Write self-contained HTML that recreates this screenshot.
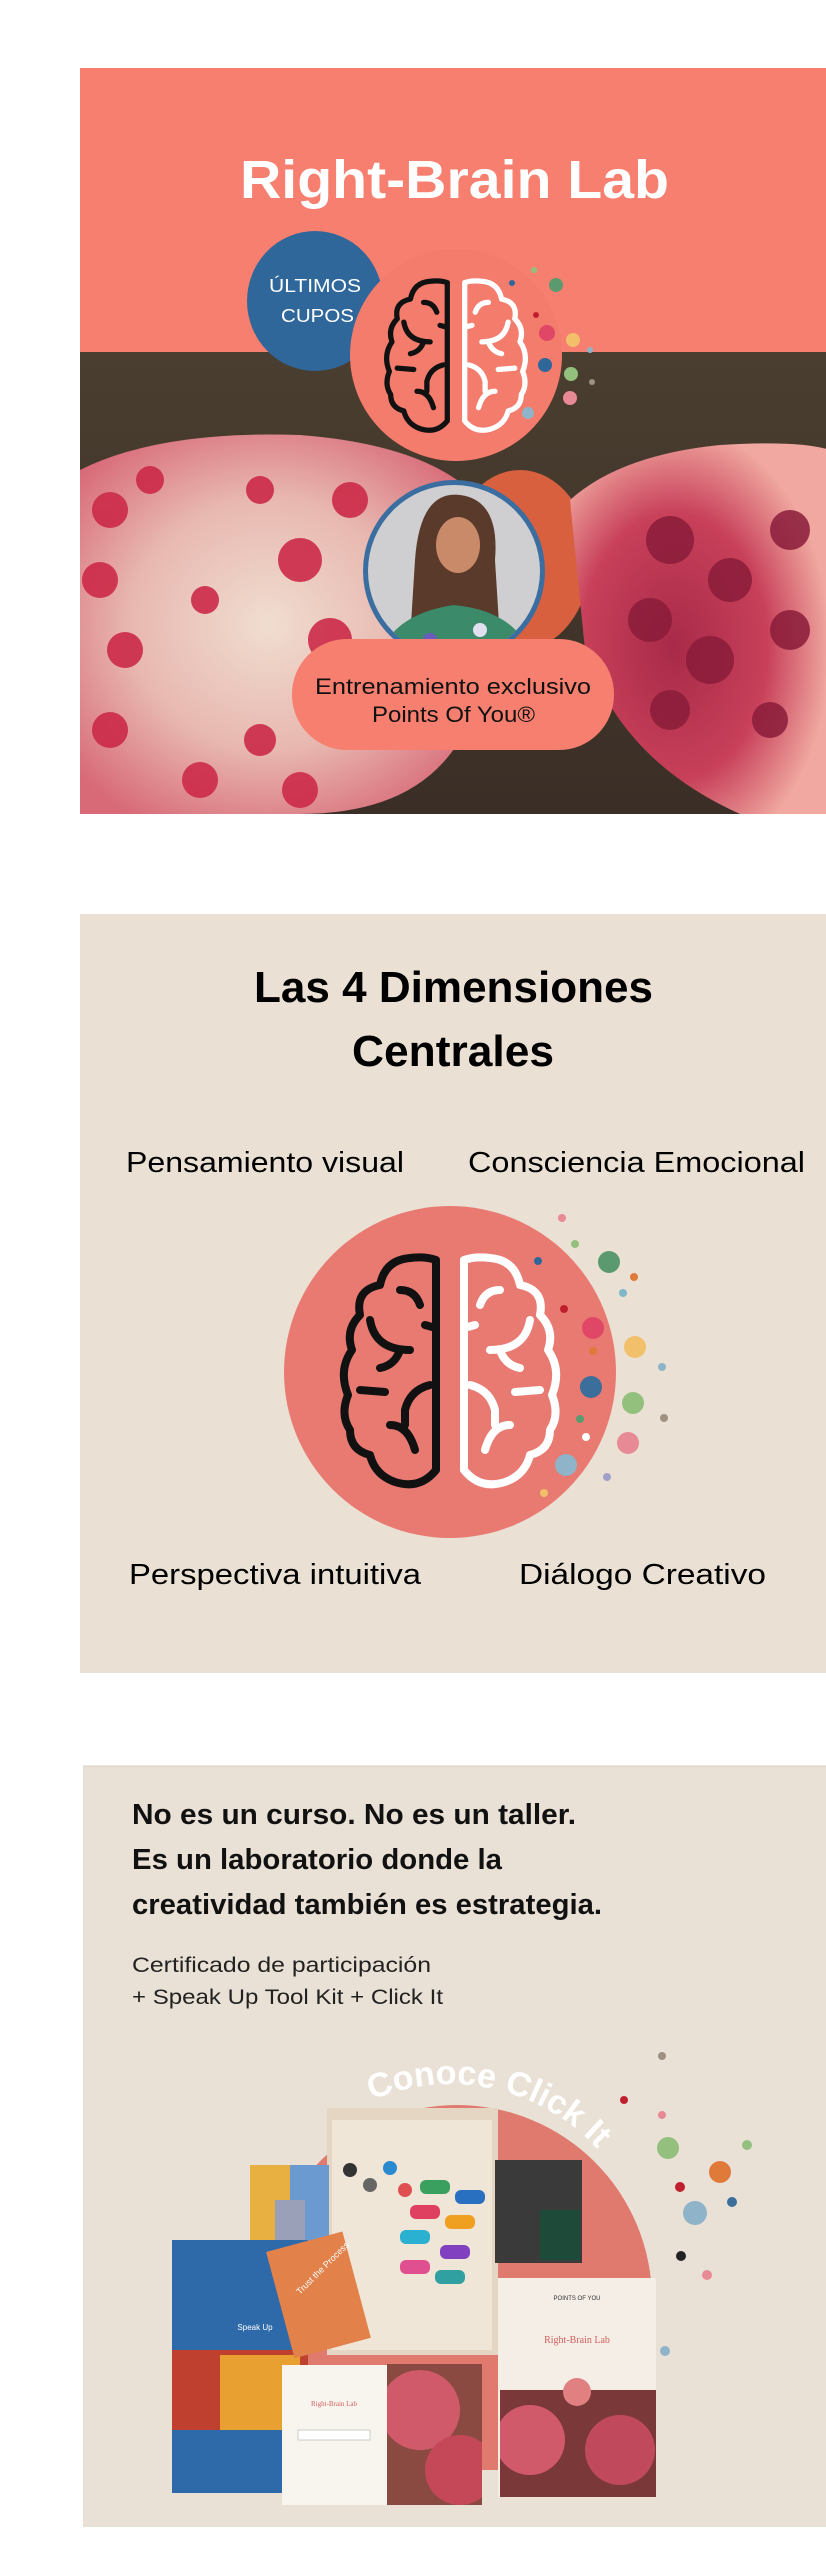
<!DOCTYPE html>
<html><head><meta charset="utf-8">
<style>
body{margin:0;background:#fff;width:826px;height:2560px;position:relative;overflow:hidden;font-family:"Liberation Sans",sans-serif}
</style></head><body>
<svg width="826" height="2560" viewBox="0 0 826 2560" style="position:absolute;left:0;top:0" font-family="Liberation Sans, sans-serif">
<defs>
<symbol id="brainL" viewBox="0 0 100 240">
<path d="M96 10 V220 Q80 240 55 232 Q35 225 30 205 Q10 200 10 180 Q0 165 8 145 Q-2 120 12 100 Q5 80 20 65 Q15 40 40 35 Q45 10 70 8 Q85 6 96 10 Z M60 40 Q75 40 80 55 M30 70 Q35 100 70 100 M85 75 L96 78 M60 100 Q55 115 40 118 M20 140 L45 142 M90 135 Q70 140 65 160 L65 175 M50 175 Q68 175 75 200" fill="none" stroke-width="8" stroke-linecap="round" stroke-linejoin="round"/>
</symbol>
<radialGradient id="fr1" cx="45%" cy="50%" r="60%"><stop offset="0" stop-color="#f0ddd0"/><stop offset="0.55" stop-color="#e8b8b0"/><stop offset="1" stop-color="#d86a78"/></radialGradient>
<radialGradient id="fr2" cx="40%" cy="55%" r="60%"><stop offset="0" stop-color="#a82a48"/><stop offset="0.6" stop-color="#c8405a"/><stop offset="1" stop-color="#f0a8a0"/></radialGradient>
<linearGradient id="bg1" x1="0" y1="0" x2="0" y2="1"><stop offset="0" stop-color="#4a3e30"/><stop offset="1" stop-color="#3a2e26"/></linearGradient>
<clipPath id="c1"><rect x="80" y="352" width="746" height="462"/></clipPath>
<clipPath id="cp"><circle cx="454" cy="571" r="86"/></clipPath>
<clipPath id="cpom"><rect x="387" y="2364" width="95" height="141"/></clipPath>
<clipPath id="cpom2"><rect x="500" y="2390" width="156" height="107"/></clipPath>
</defs>

<!-- PANEL 1 -->
<rect x="80" y="68" width="746" height="284" fill="#f67f6f"/>
<rect x="80" y="352" width="746" height="462" fill="url(#bg1)"/>
<g clip-path="url(#c1)">
<ellipse cx="520" cy="560" rx="70" ry="90" fill="#d8603e"/>
<path d="M80 470 Q160 430 300 435 Q430 445 480 500 Q520 600 470 720 Q430 814 300 814 L80 814 Z" fill="url(#fr1)"/>
<path d="M570 500 Q620 455 720 445 Q800 440 830 450 L830 814 L740 814 Q620 760 585 650 Z" fill="url(#fr2)"/>
<g fill="#cc2a48" opacity="0.9">
<circle cx="110" cy="510" r="18"/><circle cx="150" cy="480" r="14"/><circle cx="100" cy="580" r="18"/><circle cx="125" cy="650" r="18"/><circle cx="110" cy="730" r="18"/><circle cx="200" cy="780" r="18"/><circle cx="260" cy="490" r="14"/><circle cx="300" cy="560" r="22"/><circle cx="330" cy="640" r="22"/><circle cx="380" cy="720" r="20"/><circle cx="260" cy="740" r="16"/><circle cx="420" cy="600" r="20"/><circle cx="205" cy="600" r="14"/><circle cx="350" cy="500" r="18"/><circle cx="400" cy="520" r="16"/><circle cx="300" cy="790" r="18"/>
</g>
<g fill="#8a1c3a" opacity="0.85">
<circle cx="670" cy="540" r="24"/><circle cx="730" cy="580" r="22"/><circle cx="650" cy="620" r="22"/><circle cx="710" cy="660" r="24"/><circle cx="790" cy="630" r="20"/><circle cx="670" cy="710" r="20"/><circle cx="770" cy="720" r="18"/><circle cx="790" cy="530" r="20"/>
</g>
</g>
<text x="240" y="198" font-weight="bold" font-size="54" fill="#fff" textLength="429" lengthAdjust="spacingAndGlyphs">Right-Brain Lab</text>
<ellipse cx="315" cy="301" rx="68" ry="70" fill="#30679a"/>
<text x="269" y="292" font-size="18" fill="#fff" textLength="92" lengthAdjust="spacingAndGlyphs">ÚLTIMOS</text>
<text x="281" y="322" font-size="18" fill="#fff" textLength="73" lengthAdjust="spacingAndGlyphs">CUPOS</text>
<circle cx="456" cy="355" r="106" fill="#f47c6c"/>
<use href="#brainL" x="381" y="276" width="72" height="158" stroke="#111"/>
<use href="#brainL" x="381" y="276" width="72" height="158" stroke="#fff" transform="translate(912 0) scale(-1 1)"/>
<g>
<circle cx="556" cy="285" r="7" fill="#5b9a6e"/><circle cx="547" cy="333" r="8" fill="#e04766"/><circle cx="573" cy="340" r="7" fill="#f2c06a"/><circle cx="545" cy="365" r="7" fill="#30679a"/><circle cx="571" cy="374" r="7" fill="#94c07e"/><circle cx="570" cy="398" r="7" fill="#e88a96"/><circle cx="528" cy="413" r="6" fill="#8fb3c8"/><circle cx="536" cy="315" r="3" fill="#c0202e"/><circle cx="512" cy="283" r="3" fill="#30679a"/><circle cx="590" cy="350" r="3" fill="#8fb3c8"/><circle cx="592" cy="382" r="3" fill="#a09080"/><circle cx="534" cy="270" r="3" fill="#94c07e"/>
</g>
<circle cx="454" cy="571" r="91" fill="#3b6ea0"/>
<circle cx="454" cy="571" r="86" fill="#cfcfd2"/>
<g clip-path="url(#cp)">
<path d="M415 560 Q420 490 460 495 Q500 500 495 560 L500 640 L410 640 Z" fill="#5a3a2a"/>
<ellipse cx="458" cy="545" rx="22" ry="28" fill="#c98a6a"/>
<path d="M375 670 Q385 615 454 605 Q525 612 535 670 Z" fill="#3b8a6a"/>
<circle cx="430" cy="640" r="7" fill="#6a5ac0"/><circle cx="480" cy="630" r="7" fill="#e0e0f0"/><circle cx="455" cy="650" r="7" fill="#f0c040"/><circle cx="410" cy="650" r="6" fill="#2a8ad0"/>
</g>
<rect x="292" y="639" width="322" height="111" rx="55" fill="#f67f6f"/>
<text x="315" y="694" font-size="22" fill="#111" textLength="276" lengthAdjust="spacingAndGlyphs">Entrenamiento exclusivo</text>
<text x="372" y="722" font-size="22" fill="#111" textLength="163" lengthAdjust="spacingAndGlyphs">Points Of You®</text>

<!-- PANEL 2 -->
<rect x="80" y="914" width="746" height="759" fill="#eae1d4"/>
<text x="254" y="1002" font-weight="bold" font-size="44" fill="#000" textLength="399" lengthAdjust="spacingAndGlyphs">Las 4 Dimensiones</text>
<text x="352" y="1066" font-weight="bold" font-size="44" fill="#000" textLength="202" lengthAdjust="spacingAndGlyphs">Centrales</text>
<text x="126" y="1172" font-size="29" fill="#000" textLength="278" lengthAdjust="spacingAndGlyphs">Pensamiento visual</text>
<text x="468" y="1172" font-size="29" fill="#000" textLength="337" lengthAdjust="spacingAndGlyphs">Consciencia Emocional</text>
<text x="129" y="1584" font-size="29" fill="#000" textLength="292" lengthAdjust="spacingAndGlyphs">Perspectiva intuitiva</text>
<text x="519" y="1584" font-size="29" fill="#000" textLength="247" lengthAdjust="spacingAndGlyphs">Diálogo Creativo</text>
<circle cx="450" cy="1372" r="166" fill="#e87a72"/>
<use href="#brainL" x="335" y="1250" width="110" height="240" stroke="#111"/>
<use href="#brainL" x="335" y="1250" width="110" height="240" stroke="#fff" transform="translate(900 0) scale(-1 1)"/>
<g>
<circle cx="562" cy="1218" r="4" fill="#e88a96"/><circle cx="575" cy="1244" r="4" fill="#94c07e"/><circle cx="538" cy="1261" r="4" fill="#30679a"/><circle cx="609" cy="1262" r="11" fill="#5b9a6e"/><circle cx="634" cy="1277" r="4" fill="#e07a3a"/><circle cx="623" cy="1293" r="4" fill="#7fb8c8"/><circle cx="564" cy="1309" r="4" fill="#c0202e"/><circle cx="593" cy="1328" r="11" fill="#e04766"/><circle cx="593" cy="1351" r="4" fill="#e07a3a"/><circle cx="635" cy="1347" r="11" fill="#f2c06a"/><circle cx="662" cy="1367" r="4" fill="#8fb3c8"/><circle cx="591" cy="1387" r="11" fill="#3b6e9a"/><circle cx="633" cy="1403" r="11" fill="#94c07e"/><circle cx="664" cy="1418" r="4" fill="#a09080"/><circle cx="580" cy="1419" r="4" fill="#5b9a6e"/><circle cx="586" cy="1437" r="4" fill="#fff"/><circle cx="628" cy="1443" r="11" fill="#e88a96"/><circle cx="566" cy="1465" r="11" fill="#8fb3c8"/><circle cx="607" cy="1477" r="4" fill="#a0a0c8"/><circle cx="544" cy="1493" r="4" fill="#f2c06a"/>
</g>

<!-- PANEL 3 -->
<rect x="83" y="1766" width="743" height="761" fill="#eae1d6"/>
<line x1="83" y1="1766" x2="826" y2="1766" stroke="#d8d0c4"/>
<g font-weight="bold" font-size="29" fill="#111">
<text x="132" y="1824" textLength="444" lengthAdjust="spacingAndGlyphs">No es un curso. No es un taller.</text>
<text x="132" y="1869" textLength="370" lengthAdjust="spacingAndGlyphs">Es un laboratorio donde la</text>
<text x="132" y="1914" textLength="470" lengthAdjust="spacingAndGlyphs">creatividad también es estrategia.</text>
</g>
<text x="132" y="1972" font-size="21" fill="#222" textLength="299" lengthAdjust="spacingAndGlyphs">Certificado de participación</text>
<text x="132" y="2004" font-size="21" fill="#222" textLength="311" lengthAdjust="spacingAndGlyphs">+ Speak Up Tool Kit + Click It</text>
<path d="M262 2300 A195 195 0 0 1 652 2300 L652 2470 L262 2470 Z" fill="#e07a6e"/>
<g>
<circle cx="662" cy="2056" r="4" fill="#a09080"/><circle cx="624" cy="2100" r="4" fill="#c0202e"/><circle cx="662" cy="2115" r="4" fill="#e88a96"/><circle cx="668" cy="2148" r="11" fill="#94c07e"/><circle cx="747" cy="2145" r="5" fill="#94c07e"/><circle cx="720" cy="2172" r="11" fill="#e07a3a"/><circle cx="680" cy="2187" r="5" fill="#c0202e"/><circle cx="732" cy="2202" r="5" fill="#3b6e9a"/><circle cx="695" cy="2213" r="12" fill="#8fb3c8"/><circle cx="681" cy="2256" r="5" fill="#222"/><circle cx="707" cy="2275" r="5" fill="#e88a96"/><circle cx="665" cy="2351" r="5" fill="#8fb3c8"/>
</g>
<!-- products -->
<rect x="327" y="2108" width="171" height="247" fill="#e4d6c2"/>
<rect x="332" y="2120" width="160" height="230" fill="#efe6d8"/>
<g>
<circle cx="350" cy="2170" r="7" fill="#333"/><circle cx="370" cy="2185" r="7" fill="#666"/><circle cx="390" cy="2168" r="7" fill="#2a8ad0"/><circle cx="405" cy="2190" r="7" fill="#e05050"/>
<rect x="420" y="2180" width="30" height="14" rx="6" fill="#3aa060"/><rect x="455" y="2190" width="30" height="14" rx="6" fill="#2a70c0"/>
<rect x="410" y="2205" width="30" height="14" rx="6" fill="#e04060"/><rect x="445" y="2215" width="30" height="14" rx="6" fill="#f0a020"/>
<rect x="400" y="2230" width="30" height="14" rx="6" fill="#2ab0d0"/><rect x="440" y="2245" width="30" height="14" rx="6" fill="#8040c0"/>
<rect x="400" y="2260" width="30" height="14" rx="6" fill="#e05090"/><rect x="435" y="2270" width="30" height="14" rx="6" fill="#30a0a0"/>
</g>
<rect x="250" y="2165" width="79" height="115" fill="#6a9ad0"/>
<rect x="250" y="2165" width="40" height="115" fill="#e8b040"/>
<rect x="275" y="2200" width="30" height="60" fill="#9aa0b8"/>
<rect x="495" y="2160" width="87" height="103" fill="#3a3a3a"/>
<rect x="540" y="2210" width="40" height="50" fill="#1e4a3a"/>
<rect x="172" y="2240" width="136" height="253" fill="#2e6aaa"/>
<rect x="172" y="2350" width="136" height="80" fill="#c04030"/>
<rect x="220" y="2355" width="80" height="75" fill="#e8a030"/>
<text x="255" y="2330" text-anchor="middle" font-size="8" fill="#fff">Speak Up</text>
<rect x="279" y="2240" width="79" height="110" fill="#e2814a" transform="rotate(-15 318 2295)"/>
<text x="300" y="2295" font-size="9" fill="#fff" transform="rotate(-45 300 2295)">Trust the Process</text>
<rect x="498" y="2278" width="158" height="219" fill="#f5eee6"/>
<text x="577" y="2343" text-anchor="middle" font-family="Liberation Serif, serif" font-size="10" fill="#d06060">Right-Brain Lab</text>
<text x="577" y="2300" text-anchor="middle" font-size="6" fill="#333">POINTS OF YOU</text>
<g clip-path="url(#cpom2)"><rect x="500" y="2390" width="156" height="107" fill="#7a3838"/><circle cx="530" cy="2440" r="35" fill="#d05a6a"/><circle cx="620" cy="2450" r="35" fill="#c04a5c"/></g>
<circle cx="577" cy="2392" r="14" fill="#e08080"/>
<rect x="282" y="2365" width="105" height="140" fill="#f8f4ee"/>
<text x="334" y="2406" text-anchor="middle" font-family="Liberation Serif, serif" font-size="7" fill="#d06060">Right-Brain Lab</text>
<rect x="298" y="2430" width="72" height="10" fill="#fff" stroke="#ccc"/>
<g clip-path="url(#cpom)"><rect x="387" y="2364" width="95" height="141" fill="#8a4a42"/><circle cx="420" cy="2410" r="40" fill="#d05a6a"/><circle cx="460" cy="2470" r="35" fill="#c44858"/></g>
<path id="arcp" d="M372 2100 A200 200 0 0 1 650 2285" fill="none"/>
<text font-weight="bold" font-size="34" fill="#fff"><textPath href="#arcp">Conoce Click It</textPath></text>
</svg>
</body></html>
